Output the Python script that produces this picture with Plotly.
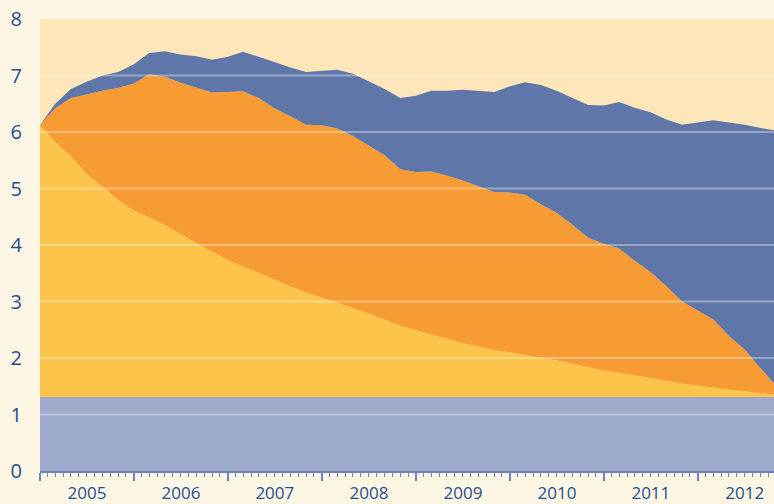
import pandas as pd
import plotly.graph_objects as go

# bi-monthly sample dates plus the right edge of the chart
dates = list(pd.date_range("2005-01-01", periods=47, freq="2MS").strftime("%Y-%m-%d")) + ["2012-10-23"]

base_level = [1.31] * 48

yellow = [6.12, 5.83, 5.57, 5.26, 5.03, 4.80, 4.61, 4.48, 4.36, 4.19, 4.03, 3.88,
          3.73, 3.62, 3.51, 3.39, 3.27, 3.16, 3.07, 2.98, 2.89, 2.79, 2.68, 2.57,
          2.49, 2.42, 2.34, 2.26, 2.20, 2.14, 2.10, 2.05, 2.00, 1.96, 1.90, 1.83,
          1.78, 1.74, 1.69, 1.64, 1.59, 1.55, 1.51, 1.48, 1.44, 1.41, 1.38, 1.35]

orange = [6.12, 6.42, 6.60, 6.67, 6.73, 6.78, 6.86, 7.02, 6.98, 6.87, 6.78, 6.70,
          6.71, 6.72, 6.60, 6.42, 6.28, 6.13, 6.12, 6.06, 5.93, 5.76, 5.59, 5.34,
          5.29, 5.30, 5.23, 5.14, 5.04, 4.94, 4.93, 4.89, 4.72, 4.57, 4.36, 4.13,
          4.02, 3.94, 3.72, 3.52, 3.27, 3.00, 2.84, 2.68, 2.39, 2.15, 1.82, 1.55]

blue = [6.12, 6.50, 6.76, 6.89, 7.00, 7.06, 7.20, 7.40, 7.43, 7.37, 7.34, 7.28,
        7.33, 7.42, 7.33, 7.23, 7.14, 7.06, 7.08, 7.10, 7.03, 6.90, 6.76, 6.60,
        6.64, 6.73, 6.73, 6.75, 6.73, 6.71, 6.81, 6.88, 6.83, 6.73, 6.60, 6.48,
        6.47, 6.53, 6.43, 6.35, 6.22, 6.13, 6.17, 6.21, 6.17, 6.13, 6.07, 6.03]

y_ticks = [0, 1, 2, 3, 4, 5, 6, 7, 8]
grid_levels = [1, 2, 3, 4, 5, 6, 7]

TEXT = "#1f4f8e"
AX = "#6c84b8"

fig = go.Figure()
fig.add_trace(go.Scatter(x=dates, y=base_level, mode="lines", line=dict(width=0),
                         fill="tozeroy", fillcolor="#9eaacc", hoverinfo="skip"))
fig.add_trace(go.Scatter(x=dates, y=yellow, mode="lines", line=dict(width=0),
                         fill="tonexty", fillcolor="#fdc44c"))
fig.add_trace(go.Scatter(x=dates, y=orange, mode="lines", line=dict(width=0),
                         fill="tonexty", fillcolor="#f79b34"))
fig.add_trace(go.Scatter(x=dates, y=blue, mode="lines", line=dict(width=0),
                         fill="tonexty", fillcolor="#5e76a8"))

for g in grid_levels:
    fig.add_shape(type="line", xref="paper", yref="y", x0=0, x1=1, y0=g, y1=g,
                  line=dict(color="rgba(255,255,255,0.35)", width=2), layer="above")

fig.update_layout(
    width=774, height=504,
    margin=dict(l=40, r=0, t=19, b=33, autoexpand=False),
    paper_bgcolor="#fdf6e5",
    plot_bgcolor="#fde6b9",
    showlegend=False,
    font=dict(family="Open Sans, Noto Sans, sans-serif", color=TEXT),
)
fig.update_xaxes(
    type="date", range=["2005-01-01", "2012-10-23"], automargin=False,
    tick0="2005-01-01", dtick="M12", ticklabelmode="period", tickformat="%Y",
    ticks="outside", ticklen=8, tickwidth=1.5, tickcolor=AX,
    minor=dict(dtick="M1", ticks="outside", ticklen=4, tickwidth=1, tickcolor=AX),
    showline=True, linecolor=AX, linewidth=2,
    showgrid=False, zeroline=False, ticklabelstandoff=-2,
    tickfont=dict(size=17, color=TEXT),
)
fig.update_yaxes(
    range=[0, 8], tickvals=y_ticks, ticks="", showgrid=False, zeroline=False,
    showline=False, automargin=False,
    tickfont=dict(size=20, color=TEXT), ticklabelstandoff=17,
)

fig.write_html(
    "out.html",
    config={"displayModeBar": False},
    post_script="document.body.style.margin='0';document.body.style.background='#fdf6e5';",
)
